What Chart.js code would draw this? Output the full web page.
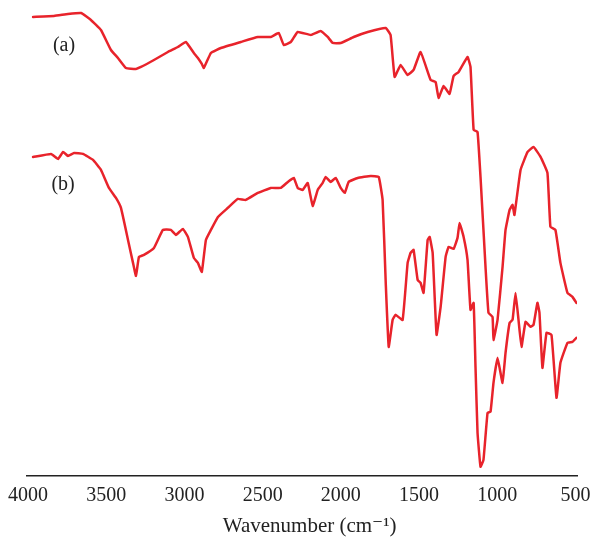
<!DOCTYPE html>
<html>
<head>
<meta charset="utf-8">
<script src="https://cdn.jsdelivr.net/npm/chart.js@4/dist/chart.umd.min.js"></script>
<style>
html,body{margin:0;padding:0;background:#fff;}
canvas{display:block;}
</style>
</head>
<body>
<canvas id="c" width="600" height="548"></canvas>
<script>
// Wavenumbers (cm^-1) and relative transmittance (arbitrary units)
const wavenumberA = [3968,3834,3745,3661,3598,3534,3470,3425,3374,3310,3278,3195,3106,3042,2991,2940,2914,2889,2876,2831,2767,2640,2531,2448,2397,2365,2320,2276,2192,2129,2084,2052,2001,1918,1828,1713,1682,1656,1618,1573,1535,1490,1426,1394,1375,1343,1305,1279,1247,1190,1171,1151,1126,1107,1075,1056,1030,1024,998,966,947,921,902,890,851,806,768,723,679,660,628,596,551,519,494];
const transA = [459,460,462,463,456,446,426,418,408,407,409,416,424,429,434,423,418,412,408,423,428,434,439,439,443,431,434,444,441,445,439,433,433,439,444,448,441,399,411,401,406,424,396,394,378,390,382,400,404,419,409,346,344,299,209,163,159,136,156,209,246,266,271,261,306,324,329,319,303,249,246,213,183,179,173];

const wavenumberB = [3968,3853,3808,3776,3745,3706,3649,3585,3534,3483,3438,3406,3361,3329,3310,3291,3259,3195,3138,3087,3055,3010,2978,2940,2914,2889,2863,2831,2786,2723,2659,2608,2531,2448,2384,2339,2301,2276,2244,2212,2180,2148,2116,2097,2065,2033,2001,1975,1950,1892,1809,1758,1733,1713,1694,1669,1650,1605,1573,1554,1535,1509,1490,1471,1445,1432,1413,1388,1362,1330,1311,1279,1254,1241,1215,1190,1171,1151,1139,1126,1107,1088,1062,1043,1024,998,966,947,921,902,883,864,845,819,787,768,743,730,711,685,653,621,596,551,519,494];
const transB = [319,322,317,324,320,323,322,316,306,288,278,268,236,213,200,219,221,228,246,246,241,247,239,218,213,204,236,246,259,268,277,276,283,288,288,294,298,288,286,293,270,286,293,299,294,298,288,283,294,298,300,299,276,193,129,156,161,156,213,223,226,196,193,183,236,239,223,141,169,219,229,227,238,253,239,216,166,173,109,43,9,16,63,64,93,118,93,123,153,156,183,156,129,154,149,151,173,163,108,143,141,78,113,133,134,138];

const tickValues = [4000,3500,3000,2500,2000,1500,1000,500];
const seriesLabels = ["(a)","(b)"];
const labelPos = [[3770,430],[3776,291]];

const red = '#e8232b';
const serif = "'Liberation Serif','DejaVu Serif',serif";

const toPts = (xs, ys) => xs.map((x,i)=>({x:x,y:ys[i]}));

const labelPlugin = {
  id:'seriesLabels',
  afterDatasetsDraw(chart){
    const {ctx, scales:{x,y}} = chart;
    ctx.save();
    ctx.font = "20px " + serif;
    ctx.fillStyle = '#222';
    ctx.textAlign = 'center';
    ctx.textBaseline = 'middle';
    seriesLabels.forEach((t,i)=>{
      ctx.fillText(t, x.getPixelForValue(labelPos[i][0]), y.getPixelForValue(labelPos[i][1]));
    });
    ctx.restore();
  }
};

new Chart(document.getElementById('c'), {
  type:'line',
  data:{
    datasets:[
      {label:seriesLabels[0], data:toPts(wavenumberA,transA), borderColor:red, borderWidth:2.5, pointRadius:0, tension:0.1, fill:false, borderJoinStyle:'round', borderCapStyle:'round'},
      {label:seriesLabels[1], data:toPts(wavenumberB,transB), borderColor:red, borderWidth:2.5, pointRadius:0, tension:0.1, fill:false, borderJoinStyle:'round', borderCapStyle:'round'}
    ]
  },
  options:{
    responsive:false,
    animation:false,
    layout:{padding:{left:25, right:23, top:0, bottom:9}},
    plugins:{legend:{display:false}, tooltip:{enabled:false}},
    scales:{
      x:{
        type:'linear', reverse:true, min:490, max:4010,
        afterBuildTicks(scale){ scale.ticks = tickValues.map(v=>({value:v})); },
        grid:{display:false, drawTicks:false},
        border:{display:true, color:'#222', width:1.6},
        ticks:{color:'#222', font:{family:serif, size:20}, padding:8, maxRotation:0, autoSkip:false,
               callback:(v)=>String(v)},
        title:{display:true, text:'\u00A0\u00A0\u00A0Wavenumber (cm\u207B\u00B9)', color:'#222', font:{family:serif, size:21}, padding:{top:-2,bottom:0}}
      },
      y:{display:false, min:0, max:476}
    }
  },
  plugins:[labelPlugin]
});
</script>
</body>
</html>
